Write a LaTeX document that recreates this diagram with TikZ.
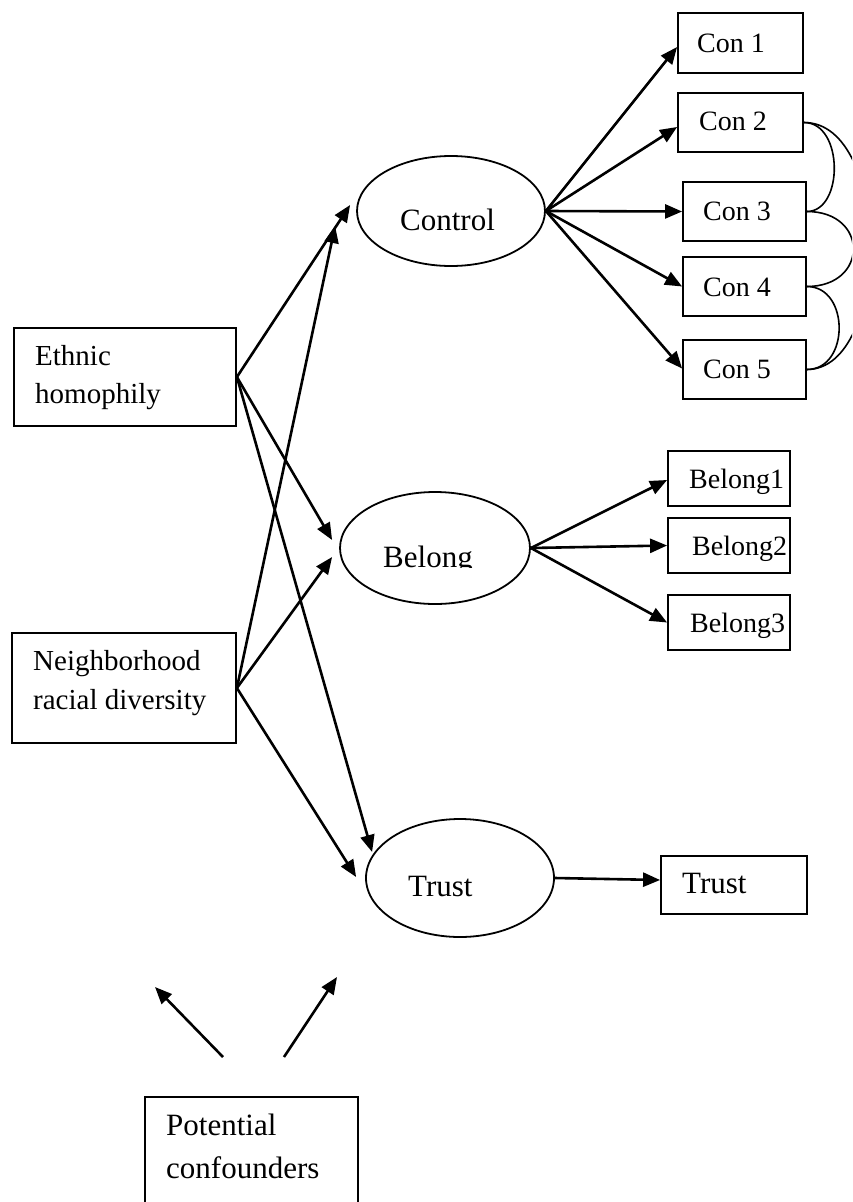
\documentclass[tikz,border=0pt]{standalone}
\usepackage{fontspec}
\setmainfont{Liberation Serif}
\usetikzlibrary{arrows.meta,shapes.geometric}
\tikzset{
  box/.style={draw, line width=1.8pt, rectangle, inner sep=0pt},
  oval/.style={draw, line width=1.8pt, ellipse, inner sep=0pt},
  lbl/.style={inner sep=0pt, anchor=base west},
  fa/.style={font=\fontsize{28}{34}\selectfont},
  fb/.style={font=\fontsize{29}{35}\selectfont},
  fc/.style={font=\fontsize{31}{37}\selectfont},
  arr/.style={line width=2.6pt, -{Triangle[length=17pt,width=14pt]}},
  cov/.style={line width=1.6pt},
}
\begin{document}
\begin{tikzpicture}[x=1pt,y=-1pt]
\useasboundingbox (0,0) rectangle (852,1202);
\clip (0,0) rectangle (852,1202);
\fill[white] (0,0) rectangle (852,1202);

% indicator boxes
\node[box, minimum width=125pt, minimum height=60pt] (con1) at (740.5,43) {};
\node[box, minimum width=125pt, minimum height=59pt] (con2) at (740.5,122.5) {};
\node[box, minimum width=123pt, minimum height=59pt] (con3) at (744.5,211.5) {};
\node[box, minimum width=123pt, minimum height=59pt] (con4) at (744.5,286.5) {};
\node[box, minimum width=123pt, minimum height=59pt] (con5) at (744.5,369.5) {};
\node[box, minimum width=122pt, minimum height=55pt] (b1) at (729,478.5) {};
\node[box, minimum width=122pt, minimum height=55pt] (b2) at (729,545.5) {};
\node[box, minimum width=122pt, minimum height=55pt] (b3) at (729,622.5) {};
\node[box, minimum width=146pt, minimum height=58pt] (trb) at (734,885) {};

% predictor boxes
\node[box, minimum width=222pt, minimum height=98pt] (eth) at (125,377) {};
\node[box, minimum width=224pt, minimum height=110pt] (nb) at (124,688) {};
\node[box, minimum width=213pt, minimum height=153pt] (pot) at (251.5,1173.5) {};

% latent ellipses
\node[oval, minimum width=188pt, minimum height=110pt] (ctrl) at (451,211) {};
\node[oval, minimum width=190pt, minimum height=112pt] (bel) at (435,548) {};
\node[oval, minimum width=188pt, minimum height=118pt] (tr) at (460,878) {};

% labels
\node[lbl,fa] (t1) at (697,52) {Con 1};
\node[lbl,fa] (t2) at (699,130) {Con 2};
\node[lbl,fa] (t3) at (703,220) {Con 3};
\node[lbl,fa] (t4) at (703,296) {Con 4};
\node[lbl,fa] (t5) at (703,378) {Con 5};
\node[lbl,fa] (tb1) at (689,488) {Belong1};
\node[lbl,fa] (tb2) at (692,555) {Belong2};
\node[lbl,fa] (tb3) at (690,632) {Belong3};
\node[lbl,fc] (ttrb) at (682,893) {Trust};
\node[lbl,fb] (te1) at (35,365) {Ethnic};
\node[lbl,fb] (te2) at (35,403) {homophily};
\node[lbl,fb] (tn1) at (33,670) {Neighborhood};
\node[lbl,fb] (tn2) at (33,709) {racial diversity};
\node[lbl,fc] (tp1) at (166,1135) {Potential};
\node[lbl,fc] (tp2) at (166,1178) {confounders};
\node[lbl,fc] (tctrl) at (400,230) {Control};
\begin{scope}
  \clip (370,520) rectangle (500,567.5);
  \node[lbl,fc] (tbel) at (383,567) {Belong};
\end{scope}
\node[lbl,fc] (ttr) at (408,896) {Trust};

% loadings
\draw[arr] (ctrl.east) -- ([yshift=-4pt]con1.west);
\draw[arr] (ctrl.east) -- ([yshift=-4.5pt]con2.west);
\draw[arr] (ctrl.east) -- (con3.west);
\draw[arr] (ctrl.east) -- (con4.west);
\draw[arr] (ctrl.east) -- ([yshift=1pt]con5.west);
\draw[arr] (bel.east) -- ([yshift=-1.5pt]b1.west);
\draw[arr] (bel.east) -- (b2.west);
\draw[arr] (bel.east) -- (b3.west);
\draw[arr] (tr.east) -- ([yshift=5pt]trb.west);

% structural paths
\draw[arr] (eth.east) -- ([xshift=-6pt,yshift=6pt]ctrl.west);
\draw[arr] (nb.east) -- ([xshift=-21pt,yshift=-15pt]ctrl.west);
\draw[arr] (eth.east) -- ([xshift=-7pt,yshift=8pt]bel.west);
\draw[arr] (nb.east) -- ([xshift=-7pt,yshift=-9pt]bel.west);
\draw[arr] (eth.east) -- ([xshift=7pt,yshift=26pt]tr.west);
\draw[arr] (nb.east) -- ([xshift=-9pt,yshift=1pt]tr.west);

% confounder arrows
\coordinate (p1s) at (223,1057);
\coordinate (p1e) at (155,987);
\coordinate (p2s) at (284,1057);
\coordinate (p2e) at (337,977);
\draw[arr] (p1s) -- (p1e);
\draw[arr] (p2s) -- (p2e);

% residual covariances
\draw[cov] (con2.east) .. controls ([xshift=40pt]con2.east) and ([xshift=37pt]con3.east) .. (con3.east);
\draw[cov] (con3.east) .. controls ([xshift=62pt]con3.east) and ([xshift=62pt]con4.east) .. (con4.east);
\draw[cov] (con4.east) .. controls ([xshift=43pt]con4.east) and ([xshift=43pt]con5.east) .. (con5.east);
\draw[cov] (con2.east) .. controls ([xshift=88pt]con2.east) and ([xshift=84pt]con5.east) .. (con5.east);
\end{tikzpicture}
\end{document}
